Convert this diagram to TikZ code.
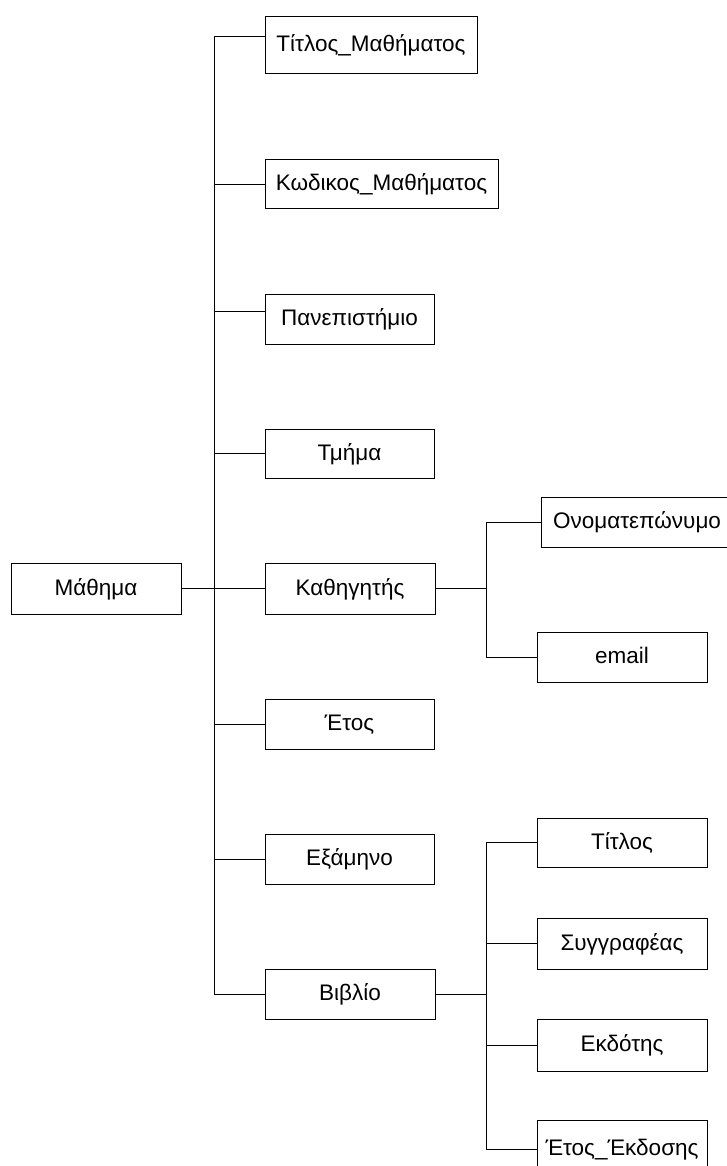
\documentclass[tikz,border=0pt]{standalone}
\usepackage{fontspec}
\setmainfont{Liberation Sans}
\begin{document}
\begin{tikzpicture}[x=1pt,y=-1pt,
  line width=1pt,
  entity/.style={draw, rectangle, inner sep=0pt, align=center,
    font=\fontsize{22.5}{27}\selectfont, text height=16.2pt, text depth=3.2pt},
  link/.style={draw, line width=1pt}]
\useasboundingbox (0,0) rectangle (727,1166);

% root entity
\node[entity, minimum width=170pt, minimum height=51pt] (root) at (96,588.5) {Μάθημα};

% attributes of the course
\node[entity, minimum width=212pt, minimum height=57pt] (t1) at (371,45.5) {Τίτλος\_Μαθήματος};
\node[entity, minimum width=233pt, minimum height=49pt] (t2) at (381.5,184.5) {Κωδικος\_Μαθήματος};
\node[entity, minimum width=169pt, minimum height=50pt] (t3) at (349.5,319) {Πανεπιστήμιο};
\node[entity, minimum width=169pt, minimum height=49pt] (t4) at (349.5,453.5) {Τμήμα};
\node[entity, minimum width=170pt, minimum height=51pt] (t5) at (350,588.5) {Καθηγητής};
\node[entity, minimum width=169pt, minimum height=50pt] (t6) at (349.5,724) {Έτος};
\node[entity, minimum width=169pt, minimum height=50pt] (t7) at (349.5,859) {Εξάμηνο};
\node[entity, minimum width=170pt, minimum height=50pt] (t8) at (350,994) {Βιβλίο};

% attributes of the professor
\node[entity, minimum width=192pt, minimum height=50pt] (o1) at (637,522) {Ονοματεπώνυμο};
\node[entity, minimum width=170pt, minimum height=50pt] (o2) at (622,657) {email};

% attributes of the book
\node[entity, minimum width=170pt, minimum height=49pt] (b1) at (622,842.5) {Τίτλος};
\node[entity, minimum width=170pt, minimum height=51pt] (b2) at (622,943.5) {Συγγραφέας};
\node[entity, minimum width=170pt, minimum height=52pt] (b3) at (622,1045) {Εκδότης};
\node[entity, minimum width=170pt, minimum height=58pt] (b4) at (622,1149) {Έτος\_Έκδοσης};

% main spine
\coordinate (s1) at (214,37);
\coordinate (s3) at (214,311);
\coordinate (s8) at (214,994);
\draw[link] (s1) -- (s8);
\draw[link] (root.east) -- (t5.west);
\draw[link] (s1) -- (s1 -| t1.west);
\draw[link] (s1 |- t2.west) -- (t2.west);
\draw[link] (s3) -- (s3 -| t3.west);
\draw[link] (s1 |- t4.west) -- (t4.west);
\draw[link] (s1 |- t6.west) -- (t6.west);
\draw[link] (s1 |- t7.west) -- (t7.west);
\draw[link] (s8) -- (t8.west);

% professor branch
\coordinate (p0) at (486,588.5);
\draw[link] (t5.east) -- (p0);
\draw[link] (o1.west) -| (p0 |- o2.west) -- (o2.west);

% book branch
\coordinate (k0) at (486,994);
\draw[link] (t8.east) -- (k0);
\draw[link] (b1.west) -| (k0 |- b4.west) -- (b4.west);
\draw[link] (k0 |- b2.west) -- (b2.west);
\draw[link] (k0 |- b3.west) -- (b3.west);
\end{tikzpicture}
\end{document}
